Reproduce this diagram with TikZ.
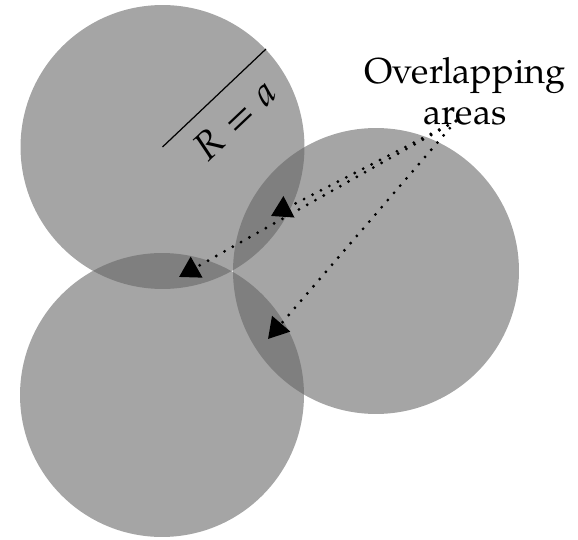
\documentclass[tikz,border=0pt]{standalone}
\usepackage{fontspec}
\setmainfont{TeX Gyre Pagella}
\usetikzlibrary{arrows.meta}
\begin{document}
\begin{tikzpicture}[
    x=0.02cm, y=-0.02cm,
    disc/.style={fill=black!61, fill opacity=0.575},
    lbl/.style={font=\fontsize{20.5}{23.5}\selectfont, align=center},
    ptr/.style={line width=1.8pt, line cap=round, dash pattern=on 0pt off 5.4pt,
        -{Triangle[length=11.5pt, width=13.3pt]}}
]
    \useasboundingbox (0,0) rectangle (578,540);

    \coordinate (c1) at (162.5,147);
    \coordinate (c2) at (162,395);
    \coordinate (c3) at (376,271);
    \fill[disc] (c1) circle[radius=2.84cm];
    \fill[disc] (c2) circle[radius=2.84cm];
    \fill[disc] (c3) circle[radius=2.86cm];

    \coordinate (rim) at (266,49);
    \draw[line width=0.7pt] (c1) -- (rim)
        node[midway, sloped, below=9pt, lbl, font=\fontsize{22}{26}\selectfont, inner sep=0pt]
        (rlbl) {\textit{R}\hspace{0.32em}=\hspace{0.32em}\textit{a}};

    \node[lbl] (ovl) at (465,91) {Overlapping\\areas};

    \coordinate (src) at (456,121);
    \coordinate (t1) at (271,216);
    \coordinate (t2) at (179,277);
    \coordinate (t3) at (268,339);
    \draw[ptr] (src) -- (t1);
    \draw[ptr] (src) -- (t2);
    \draw[ptr] (src) -- (t3);
\end{tikzpicture}
\end{document}
